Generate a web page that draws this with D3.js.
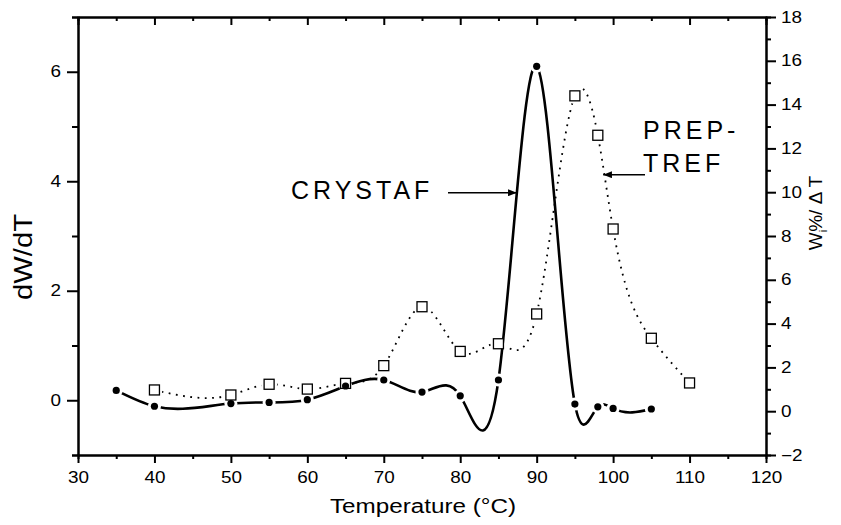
<!DOCTYPE html>
<html>
<head>
<meta charset="utf-8">
<script src="https://cdn.jsdelivr.net/npm/d3@7"></script>
<style>
body{margin:0;background:#fff;}
svg text{font-family:"Liberation Sans",Arial,sans-serif;fill:#000;}
</style>
</head>
<body>
<div id="chart"></div>
<script>
// CRYSTAF curve, dW/dT on the left axis
const crystafTemp = [35,40,50,55,60,65,70,75,80,85,90,95,98,100,105];
const crystafDwdt = [0.18,-0.11,-0.06,-0.04,0.01,0.26,0.37,0.15,0.08,0.37,6.1,-0.07,-0.12,-0.15,-0.16];
// PREP-TREF curve, Wi%/dT on the right axis
const prepTemp = [40,50,55,60,65,70,75,80,85,90,95,98,100,105,110];
const prepW = [0.97,0.74,1.23,1.01,1.27,2.08,4.77,2.73,3.08,4.44,14.4,12.6,8.32,3.33,1.29];

const xTicks = [30,40,50,60,70,80,90,100,110,120];
const leftTicks = [0,2,4,6];
const rightTicks = [-2,0,2,4,6,8,10,12,14,16,18];

const width = 841, height = 525;
const pLeft = 78, pRight = 766, pTop = 17, pBottom = 455;

const x = d3.scaleLinear().domain([30,120]).range([pLeft,pRight]);
const yL = d3.scaleLinear().domain([-1,7]).range([pBottom,pTop]);
const yR = d3.scaleLinear().domain([-2,18]).range([pBottom,pTop]);

const crystaf = crystafTemp.map((t,i) => ({t:t, v:crystafDwdt[i]}));
const prep = prepTemp.map((t,i) => ({t:t, v:prepW[i]}));

// natural cubic spline with x as the parameter (like the Origin spline),
// used as a custom curve for d3.line
function NaturalX(context){ this._context = context; }
NaturalX.prototype = {
  areaStart(){ this._line = 0; },
  areaEnd(){ this._line = NaN; },
  lineStart(){ this._x = []; this._y = []; },
  point(px, py){ this._x.push(+px); this._y.push(+py); },
  lineEnd(){
    const xs = this._x, ys = this._y, n = xs.length, ctx = this._context;
    if (!n) return;
    ctx.moveTo(xs[0], ys[0]);
    if (n < 3){ for (let i = 1; i < n; i++) ctx.lineTo(xs[i], ys[i]); return; }
    const h = [];
    for (let i = 0; i < n-1; i++) h.push(xs[i+1]-xs[i]);
    const a = [], b = [], c = [], r = [];
    for (let i = 1; i < n-1; i++){
      a.push(h[i-1]); b.push(2*(h[i-1]+h[i])); c.push(h[i]);
      r.push(6*((ys[i+1]-ys[i])/h[i] - (ys[i]-ys[i-1])/h[i-1]));
    }
    const m = b.length;
    for (let i = 1; i < m; i++){
      const w = a[i]/b[i-1];
      b[i] -= w*c[i-1];
      r[i] -= w*r[i-1];
    }
    const M = new Array(n).fill(0);
    M[m] = r[m-1]/b[m-1];
    for (let i = m-2; i >= 0; i--) M[i+1] = (r[i]-c[i]*M[i+2])/b[i];
    for (let i = 0; i < n-1; i++){
      const s = (ys[i+1]-ys[i])/h[i];
      const d0 = s - h[i]*(2*M[i]+M[i+1])/6;
      const d1 = s + h[i]*(M[i]+2*M[i+1])/6;
      ctx.bezierCurveTo(xs[i]+h[i]/3, ys[i]+d0*h[i]/3,
                        xs[i+1]-h[i]/3, ys[i+1]-d1*h[i]/3,
                        xs[i+1], ys[i+1]);
    }
  }
};
const curveNaturalX = ctx => new NaturalX(ctx);

const svg = d3.select("#chart").append("svg")
  .attr("width", width)
  .attr("height", height);

// stretch text a bit wider, the original figure looks resampled
function widen(sel, k){
  sel.each(function(){
    const w = this.getComputedTextLength();
    d3.select(this).attr("textLength", w*k).attr("lengthAdjust","spacingAndGlyphs");
  });
}

const defs = svg.append("defs");
// gaps in the lines around the symbols
const mC = defs.append("mask").attr("id","gapC").attr("maskUnits","userSpaceOnUse")
  .attr("x",0).attr("y",0).attr("width",width).attr("height",height);
mC.append("rect").attr("width",width).attr("height",height).attr("fill","white");
mC.selectAll("circle").data(crystaf).join("circle")
  .attr("cx", d => x(d.t)).attr("cy", d => yL(d.v)).attr("r",6.5).attr("fill","black");

const mP = defs.append("mask").attr("id","gapP").attr("maskUnits","userSpaceOnUse")
  .attr("x",0).attr("y",0).attr("width",width).attr("height",height);
mP.append("rect").attr("width",width).attr("height",height).attr("fill","white");
mP.selectAll("circle").data(prep).join("circle")
  .attr("cx", d => x(d.t)).attr("cy", d => yR(d.v)).attr("r",8).attr("fill","black");

defs.append("marker").attr("id","arr")
  .attr("viewBox","0 0 10 8").attr("refX",10).attr("refY",4)
  .attr("markerWidth",9).attr("markerHeight",7).attr("markerUnits","userSpaceOnUse")
  .attr("orient","auto")
  .append("path").attr("d","M0,0 L10,4 L0,8 Z").attr("fill","#000");

// axes
svg.append("g").attr("transform","translate(0,"+pBottom+")")
  .call(d3.axisBottom(x).tickValues(xTicks).tickSize(8).tickSizeOuter(0).tickPadding(9));
svg.append("g").attr("transform","translate(0,"+pBottom+")")
  .call(d3.axisBottom(x).tickValues(d3.range(35,120,10)).tickSize(4).tickFormat(""));
svg.append("g").attr("transform","translate(0,"+pTop+")")
  .call(d3.axisBottom(x).tickValues(xTicks).tickSize(8).tickSizeOuter(0).tickFormat(""));
svg.append("g").attr("transform","translate(0,"+pTop+")")
  .call(d3.axisBottom(x).tickValues(d3.range(35,120,10)).tickSize(4).tickFormat(""));

svg.append("g").attr("transform","translate("+pLeft+",0)")
  .call(d3.axisLeft(yL).tickValues(leftTicks).tickSize(11).tickSizeOuter(0).tickPadding(6));
svg.append("g").attr("transform","translate("+pLeft+",0)")
  .call(d3.axisLeft(yL).tickValues([-1,1,3,5,7]).tickSize(6).tickFormat(""));

svg.append("g").attr("transform","translate("+pRight+",0)")
  .call(d3.axisRight(yR).tickValues(rightTicks).tickSize(10).tickSizeOuter(0).tickPadding(5));
svg.append("g").attr("transform","translate("+pRight+",0)")
  .call(d3.axisRight(yR).tickValues(d3.range(-1,18,2)).tickSize(5).tickFormat(""));

svg.selectAll(".domain, .tick line").attr("stroke","#000").attr("stroke-width",2);
svg.selectAll(".tick text").style("font-size","16px").attr("fill","#000");
widen(svg.selectAll(".tick text"), 1.18);

// PREP-TREF dotted spline
svg.append("path")
  .datum(prep)
  .attr("d", d3.line().x(d => x(d.t)).y(d => yR(d.v)).curve(curveNaturalX))
  .attr("fill","none").attr("stroke","#000").attr("stroke-width",1.8)
  .attr("stroke-dasharray","1.8,5.5")
  .attr("mask","url(#gapP)");

// CRYSTAF solid spline
svg.append("path")
  .datum(crystaf)
  .attr("d", d3.line().x(d => x(d.t)).y(d => yL(d.v)).curve(curveNaturalX))
  .attr("fill","none").attr("stroke","#000").attr("stroke-width",2.6)
  .attr("mask","url(#gapC)");

svg.selectAll("rect.sq").data(prep).join("rect")
  .attr("class","sq")
  .attr("x", d => x(d.t)-5).attr("y", d => yR(d.v)-5)
  .attr("width",10).attr("height",10)
  .attr("fill","#fff").attr("stroke","#000").attr("stroke-width",1.3);

svg.selectAll("circle.dot").data(crystaf).join("circle")
  .attr("class","dot")
  .attr("cx", d => x(d.t)).attr("cy", d => yL(d.v)).attr("r",3.6)
  .attr("fill","#000");

// annotations
svg.append("line")
  .attr("x1",448).attr("y1",yL(3.79)).attr("x2",x(87.4)).attr("y2",yL(3.79))
  .attr("stroke","#000").attr("stroke-width",1.5).attr("marker-end","url(#arr)");
svg.append("text").attr("x",291).attr("y",199)
  .style("font-size","25px").style("letter-spacing","4px").text("CRYSTAF");

svg.append("line")
  .attr("x1",645).attr("y1",yR(10.8)).attr("x2",x(98.7)).attr("y2",yR(10.8))
  .attr("stroke","#000").attr("stroke-width",1.5).attr("marker-end","url(#arr)");
svg.append("text").attr("x",643).attr("y",139)
  .style("font-size","25px").style("letter-spacing","4px").text("PREP-");
svg.append("text").attr("x",643).attr("y",172)
  .style("font-size","25px").style("letter-spacing","4px").text("TREF");

// axis titles
svg.append("text").attr("x",423).attr("y",513)
  .attr("text-anchor","middle").style("font-size","20px")
  .attr("textLength",186).attr("lengthAdjust","spacingAndGlyphs")
  .text("Temperature (°C)");

svg.append("text")
  .attr("transform","translate(32,257) rotate(-90)")
  .attr("text-anchor","middle").style("font-size","25px")
  .attr("textLength",86).attr("lengthAdjust","spacingAndGlyphs")
  .text("dW/dT");

const rt = svg.append("text")
  .attr("transform","translate(822,213) rotate(-90)")
  .attr("text-anchor","middle").style("font-size","19px");
rt.append("tspan").text("W");
rt.append("tspan").attr("dy",5).style("font-size","11px").text("i");
rt.append("tspan").attr("dy",-5).attr("dx",-2).text("%/ \u0394 T");
</script>
</body>
</html>
